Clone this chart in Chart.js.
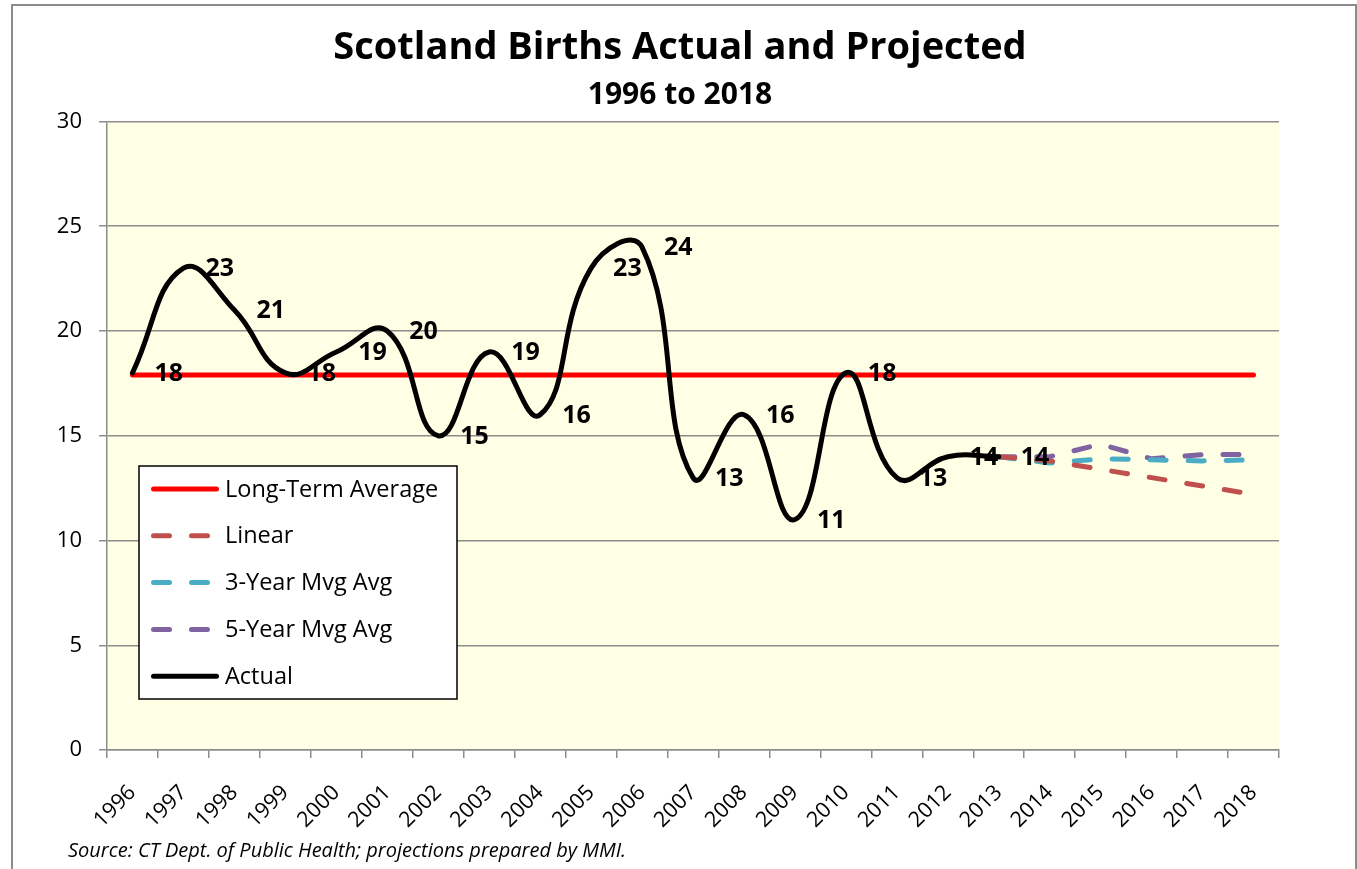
<!DOCTYPE html>
<html>
<head>
<meta charset="utf-8">
<title>Scotland Births Actual and Projected</title>
<script src="https://cdn.jsdelivr.net/npm/chart.js@4.4.1/dist/chart.umd.min.js"></script>
<style>
  html, body { margin: 0; padding: 0; background: #fff; }
  #wrap { position: relative; width: 1357px; height: 869px; }
</style>
</head>
<body>
<div id="wrap"><canvas id="births"></canvas></div>
<script>
// data
const years = ["1996", "1997", "1998", "1999", "2000", "2001", "2002", "2003",
  "2004", "2005", "2006", "2007", "2008", "2009", "2010", "2011", "2012",
  "2013", "2014", "2015", "2016", "2017", "2018"];
const actual = [18, 23, 21, 18, 19, 20, 15, 19, 16, 23, 24, 13, 16, 11, 18, 13, 14, 14,
  null, null, null, null, null];
const linear = [null, null, null, null, null, null, null, null, null, null, null, null,
  null, null, null, null, null, 14, 13.8, 13.4, 13.0, 12.6, 12.2];
const threeYear = [null, null, null, null, null, null, null, null, null, null, null, null,
  null, null, null, null, null, 14, 13.7, 13.9, 13.85, 13.8, 13.85];
const fiveYear = [null, null, null, null, null, null, null, null, null, null, null, null,
  null, null, null, null, null, 14, 14.0, 14.6, 13.9, 14.1, 14.1];
const longTermAverage = 17.9;
const legendOrder = ["Long-Term Average", "Linear", "3-Year Mvg Avg", "5-Year Mvg Avg", "Actual"];

const FONT = '"Open Sans", sans-serif';
const GRID = "#8c8c8c";
Chart.defaults.font.family = FONT;
Chart.defaults.color = "#000";

// background, frame and titles
const frame = {
  id: "frame",
  beforeDraw(chart) {
    const { ctx, chartArea: a } = chart;
    ctx.save();
    ctx.fillStyle = "#fff";
    ctx.fillRect(0, 0, chart.width, chart.height);
    ctx.fillStyle = "#FFFFE5";
    ctx.fillRect(a.left, a.top, a.right - a.left, a.bottom - a.top);
    ctx.strokeStyle = GRID;
    ctx.lineWidth = 2;
    ctx.strokeRect(12, 5, 1344, 900);
    ctx.fillStyle = "#000";
    ctx.textAlign = "center";
    ctx.textBaseline = "alphabetic";
    ctx.font = "bold 38px " + FONT;
    ctx.fillText("Scotland Births Actual and Projected", 680, 59);
    ctx.font = "bold 30px " + FONT;
    ctx.fillText("1996 to 2018", 680, 104);
    ctx.textAlign = "left";
    ctx.font = "italic 20px " + FONT;
    ctx.fillText("Source: CT Dept. of Public Health; projections prepared by MMI.", 68, 857);
    ctx.restore();
  }
};

// value labels right of each actual point
const pointLabels = {
  id: "pointLabels",
  afterDatasetsDraw(chart) {
    const idx = chart.data.datasets.findIndex((d) => d.label === "Actual");
    const meta = chart.getDatasetMeta(idx);
    const { ctx } = chart;
    ctx.save();
    ctx.font = "bold 25px " + FONT;
    ctx.fillStyle = "#000";
    ctx.textAlign = "left";
    ctx.textBaseline = "middle";
    meta.data.forEach((pt, i) => {
      if (actual[i] == null) return;
      ctx.fillText(String(actual[i]), pt.x + 22, pt.y + 1);
    });
    ctx.restore();
  }
};

// boxed legend inside the plot
const insideLegend = {
  id: "insideLegend",
  afterDraw(chart) {
    const { ctx, chartArea: a } = chart;
    const x = a.left + 32, y = a.top + 344.5, w = 318, h = 233;
    ctx.save();
    ctx.fillStyle = "#fff";
    ctx.fillRect(x, y, w, h);
    ctx.strokeStyle = "#000";
    ctx.lineWidth = 1.5;
    ctx.strokeRect(x, y, w, h);
    legendOrder.forEach((label, i) => {
      const ds = chart.data.datasets.find((d) => d.label === label);
      const cy = y + 23 + i * 46.8;
      ctx.beginPath();
      ctx.setLineDash(ds.borderDash || []);
      ctx.lineCap = "round";
      ctx.strokeStyle = ds.borderColor;
      ctx.lineWidth = 5;
      ctx.moveTo(x + 14.5, cy);
      ctx.lineTo(x + 77.5, cy);
      ctx.stroke();
      ctx.setLineDash([]);
      ctx.fillStyle = "#000";
      ctx.font = "23.5px " + FONT;
      ctx.textBaseline = "middle";
      ctx.fillText(label, x + 86, cy + 1);
    });
    ctx.restore();
  }
};

const dashed = (label, data, color) => ({
  label,
  data,
  borderColor: color,
  borderWidth: 5,
  borderDash: [16, 22],
  borderCapStyle: "round",
  pointRadius: 0,
  tension: 0,
  fill: false,
});

new Chart(document.getElementById("births"), {
  type: "line",
  data: {
    labels: years,
    datasets: [
      {
        label: "Actual",
        data: actual,
        borderColor: "#000",
        borderWidth: 5,
        borderCapStyle: "round",
        borderJoinStyle: "round",
        pointRadius: 0,
        tension: 0.45,
        fill: false,
      },
      dashed("Linear", linear, "#C0504D"),
      dashed("3-Year Mvg Avg", threeYear, "#4BACC6"),
      dashed("5-Year Mvg Avg", fiveYear, "#8064A2"),
      {
        label: "Long-Term Average",
        data: years.map(() => longTermAverage),
        borderColor: "#FF0000",
        borderWidth: 5,
        borderCapStyle: "round",
        pointRadius: 0,
        tension: 0,
        fill: false,
      },
    ],
  },
  options: {
    responsive: true,
    maintainAspectRatio: false,
    animation: false,
    layout: { padding: { top: 121.5, left: 12, right: 78, bottom: 39 } },
    plugins: {
      legend: { display: false },
      title: { display: false },
      tooltip: { enabled: false },
    },
    scales: {
      x: {
        offset: true,
        grid: { offset: true, drawOnChartArea: false, drawTicks: true, tickLength: 8, color: GRID, lineWidth: 1.5 },
        border: { color: GRID, width: 1.5 },
        ticks: { maxRotation: 45, minRotation: 45, autoSkip: false, padding: 22, font: { size: 21.5 }, color: "#000" },
        afterFit: (s) => { s.height = 80; },
      },
      y: {
        min: 0,
        max: 30,
        grid: { color: GRID, lineWidth: 1.5, drawTicks: true, tickLength: 8 },
        border: { color: GRID, width: 1.5 },
        ticks: { stepSize: 5, padding: 17, font: { size: 22 }, color: "#000" },
        afterFit: (s) => { s.width = 95; },
      },
    },
  },
  plugins: [frame, pointLabels, insideLegend],
});
</script>
</body>
</html>
